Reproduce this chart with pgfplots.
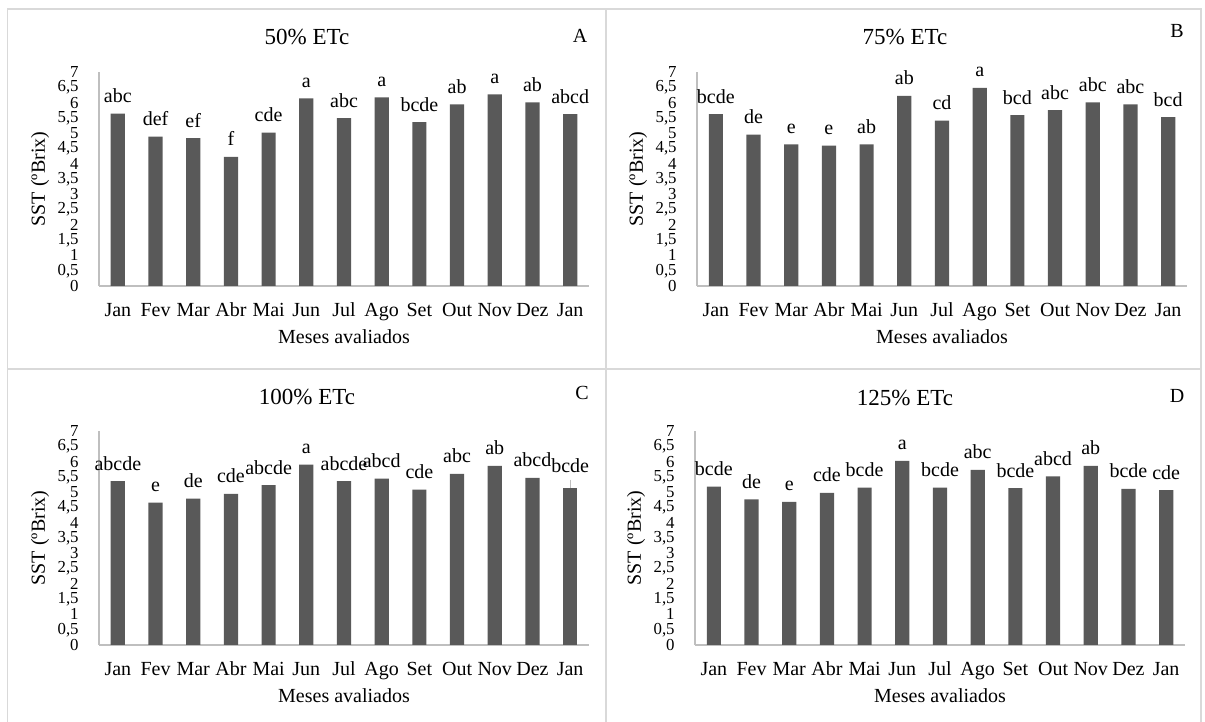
\documentclass[border=0pt]{standalone}
\usepackage{fontspec}
\setmainfont{Liberation Serif}
\usepackage{pgfplots}
\usepackage{pgfplotstable}
\pgfplotsset{compat=1.18}
\definecolor{barc}{HTML}{595959}
\definecolor{axc}{HTML}{BFBFBF}
\definecolor{brd}{HTML}{D9D9D9}

\pgfplotstableread{
x y lab
0 5.64 abc
1 4.89 def
2 4.84 ef
3 4.22 f
4 5.02 cde
5 6.14 a
6 5.49 abc
7 6.17 a
8 5.36 bcde
9 5.94 ab
10 6.27 a
11 6.01 ab
12 5.62 abcd
}\dataA
\pgfplotstableread{
x y lab
0 5.62 bcde
1 4.95 de
2 4.63 e
3 4.59 e
4 4.63 ab
5 6.22 ab
6 5.41 cd
7 6.48 a
8 5.59 bcd
9 5.75 abc
10 6.01 abc
11 5.94 abc
12 5.52 bcd
}\dataB
\pgfplotstableread{
x y lab
0 5.36 abcde
1 4.66 e
2 4.79 de
3 4.94 cde
4 5.23 abcde
5 5.90 a
6 5.36 abcde
7 5.44 abcd
8 5.08 cde
9 5.60 abc
10 5.86 ab
11 5.47 abcd
}\dataC
\pgfplotstableread{
x y lab err
12 5.13 bcde 0.27
}\dataClast
\pgfplotstableread{
x y lab
0 5.18 bcde
1 4.76 de
2 4.68 e
3 4.98 cde
4 5.15 bcde
5 6.02 a
6 5.15 bcde
7 5.73 abc
8 5.13 bcde
9 5.52 abcd
10 5.86 ab
11 5.11 bcde
12 5.07 cde
}\dataD

\pgfplotsset{
  panel/.style={
    scale only axis, width=245pt, height=107pt,
    anchor=south west,
    xmin=-0.5, xmax=12.5, ymin=0, ymax=7,
    axis lines=left,
    axis line style={draw=axc, line width=0.6pt, -},
    every outer x axis line/.append style={-},
    every outer y axis line/.append style={-},
    xtick={0,...,12},
    xticklabels={Jan,Fev,Mar,Abr,Mai,Jun,Jul,Ago,Set,Out,Nov,Dez,Jan},
    ytick={0,0.5,...,7},
    major tick length=0pt,
    /pgf/number format/assume math mode=true,
    /pgf/number format/use comma,
    /pgf/number format/fixed,
    yticklabel style={font=\fontsize{8.4}{8.4}\selectfont, anchor=east, inner sep=0pt, xshift=-10pt},
    xticklabel style={font=\fontsize{10}{10}\selectfont, anchor=base, inner sep=0pt, yshift=-15.3pt},
    xlabel={Meses avaliados},
    ylabel={SST (ºBrix)},
    xlabel style={font=\fontsize{10}{10}\selectfont, at={(axis description cs:0.5,0)}, anchor=base, inner sep=0pt, yshift=-29pt},
    ylabel style={font=\fontsize{10}{10}\selectfont, at={(axis description cs:0,0.5)}, anchor=center, inner sep=0pt, yshift=29.5pt},
    clip=false,
  },
  bars/.style={
    ybar, bar width=7.1pt, bar shift=0pt, fill=barc, draw=none,
    nodes near coords, point meta=explicit symbolic,
    every node near coord/.append style={font=\fontsize{10}{10}\selectfont, anchor=base, inner sep=0pt, yshift=5.5pt, text=black},
  },
}

\begin{document}
\begin{tikzpicture}
\useasboundingbox (0,0) rectangle (602.5pt,361pt);
% panel borders
\draw[brd, line width=0.8pt] (3.75pt,0) -- (3.75pt,356.5pt) -- (600.5pt,356.5pt) -- (600.5pt,0);
\draw[brd, line width=0.8pt] (303pt,0) -- (303pt,356.5pt);
\draw[brd, line width=0.8pt] (3.75pt,176.5pt) -- (600.5pt,176.5pt);

\begin{axis}[panel, at={(49.5pt,218pt)}]
\addplot[bars] table[x=x,y=y,meta=lab] {\dataA};
\end{axis}
\begin{axis}[panel, at={(348.5pt,218pt)}]
\addplot[bars] table[x=x,y=y,meta=lab] {\dataB};
\end{axis}
\begin{axis}[panel, at={(49.5pt,38.5pt)}]
\addplot[bars] table[x=x,y=y,meta=lab] {\dataC};
\addplot[bars, every node near coord/.append style={yshift=2.3pt},
  error bars/.cd, y dir=plus, y explicit, error mark=none,
  error bar style={draw=axc, line width=0.6pt}]
  table[x=x,y=y,meta=lab,y error=err] {\dataClast};
\end{axis}
\begin{axis}[panel, at={(347.5pt,38.5pt)}]
\addplot[bars] table[x=x,y=y,meta=lab] {\dataD};
\end{axis}

% titles
\node[font=\fontsize{11.5}{11.5}\selectfont] at (153.5pt,342.5pt) {50\% ETc};
\node[font=\fontsize{11.5}{11.5}\selectfont] at (452.5pt,342.5pt) {75\% ETc};
\node[font=\fontsize{11.5}{11.5}\selectfont] at (153.5pt,162.5pt) {100\% ETc};
\node[font=\fontsize{11.5}{11.5}\selectfont] at (452.5pt,162pt) {125\% ETc};
\node[font=\fontsize{10}{10}\selectfont] at (290pt,343pt) {A};
\node[font=\fontsize{10}{10}\selectfont] at (588.5pt,345.5pt) {B};
\node[font=\fontsize{10}{10}\selectfont] at (291pt,164.5pt) {C};
\node[font=\fontsize{10}{10}\selectfont] at (588.5pt,163pt) {D};
\end{tikzpicture}
\end{document}
